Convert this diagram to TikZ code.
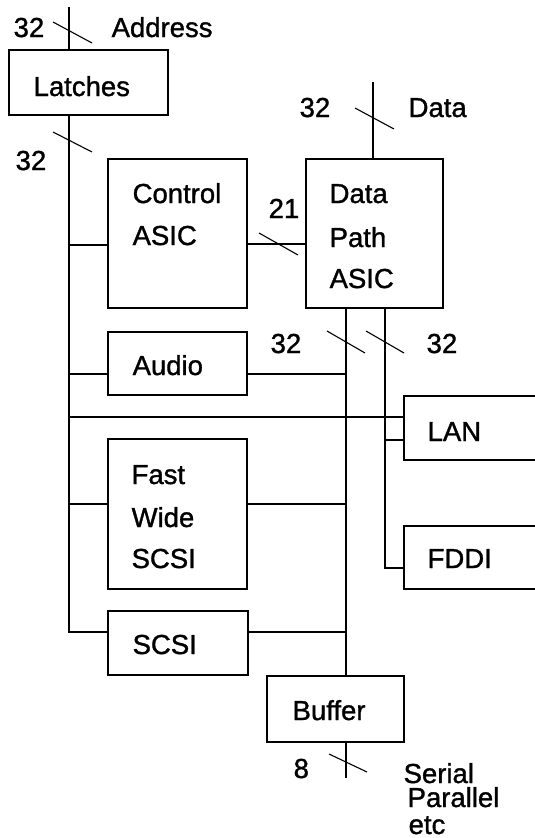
\documentclass[tikz,border=0pt]{standalone}
\usepackage{fontspec}
\setmainfont{Liberation Sans}[FakeBold=1.2]
\begin{document}
\begin{tikzpicture}[x=1pt,y=-1pt, line width=1.3pt,
  box/.style={draw, rectangle, inner sep=0pt},
  lbl/.style={anchor=base west, inner sep=0pt, font=\fontsize{27.5}{30}\selectfont},
  slashmark/.style={line width=1.1pt}]
\useasboundingbox (0,0) rectangle (535,838);
\clip (0,0) rectangle (535,838);

% boxes
\node[box, minimum width=159pt, minimum height=65pt]  (latches)  at (88.5,82.5) {};
\node[box, minimum width=139pt, minimum height=149pt] (control)  at (177.5,233.5) {};
\node[box, minimum width=137pt, minimum height=149pt] (datapath) at (374.5,233.5) {};
\node[box, minimum width=139pt, minimum height=63pt]  (audio)    at (177.5,363.5) {};
\node[box, minimum width=141pt, minimum height=64pt]  (lan)      at (474.5,428) {};
\node[box, minimum width=139pt, minimum height=150pt] (fws)      at (177.5,514) {};
\node[box, minimum width=141pt, minimum height=63pt]  (fddi)     at (474.5,557.5) {};
\node[box, minimum width=140pt, minimum height=64pt]  (scsi)     at (178,643) {};
\node[box, minimum width=137pt, minimum height=66pt]  (buffer)   at (335.5,709) {};

% bus coordinates
\coordinate (abTop) at (69,7);
\coordinate (abBot) at (69,632);
\coordinate (dTop) at (373,82);
\coordinate (mainX) at (346,0);
\coordinate (rightX) at (385,0);
\coordinate (ioEnd) at (346,778);

% connectors
\draw (abTop) -- (abTop |- latches.north);
\draw (abTop |- latches.south) -- (abBot) -- (scsi.west |- abBot);
\draw (abTop |- 0,245) -- (control.west |- 0,245);
\draw (control.east |- 0,244) -- (datapath.west |- 0,244);
\draw (dTop) -- (dTop |- datapath.north);
\draw (mainX |- datapath.south) -- (mainX |- buffer.north);
\draw (rightX |- datapath.south) -- (rightX |- 0,568) -- (fddi.west |- 0,568);
\draw (abTop |- 0,374) -- (audio.west |- 0,374);
\draw (audio.east |- 0,374) -- (mainX |- 0,374);
\draw (abTop |- 0,417) -- (lan.west |- 0,417);
\draw (rightX |- 0,440) -- (lan.west |- 0,440);
\draw (abTop |- 0,504) -- (fws.west |- 0,504);
\draw (fws.east |- 0,504) -- (mainX |- 0,504);
\draw (scsi.east |- abBot) -- (mainX |- abBot);
\draw (mainX |- buffer.south) -- (ioEnd);

% bus-width slashes
\draw[slashmark] (53,22) -- (92,43);
\draw[slashmark] (53,132) -- (92,152);
\draw[slashmark] (355,108) -- (394,129);
\draw[slashmark] (259,233) -- (298,255);
\draw[slashmark] (327,331) -- (365,353);
\draw[slashmark] (366,331) -- (404,353);
\draw[slashmark] (329,754) -- (367,772);

% texts
\node[lbl] (t32a) at (13,37) {32};
\node[lbl] (taddr) at (111,37) {Address};
\node[lbl] (tlatch) at (33,96) {Latches};
\node[lbl] (t32b) at (15,170) {32};
\node[lbl] (tctl1) at (132,203) {Control};
\node[lbl] (tctl2) at (132,245) {ASIC};
\node[lbl] (t32c) at (299,117) {32};
\node[lbl] (tdata) at (408,117) {Data};
\node[lbl] (tdp1) at (329,203) {Data};
\node[lbl] (tdp2) at (329,247) {Path};
\node[lbl] (tdp3) at (329,288) {ASIC};
\node[lbl] (t21) at (268,218) {21};
\node[lbl] (taudio) at (132,375) {Audio};
\node[lbl] (t32d) at (270,353) {32};
\node[lbl] (t32e) at (426,353) {32};
\node[lbl] (tlan) at (427,441) {LAN};
\node[lbl] (tfws1) at (131,484) {Fast};
\node[lbl] (tfws2) at (131,527) {Wide};
\node[lbl] (tfws3) at (131,568) {SCSI};
\node[lbl] (tfddi) at (427,568) {FDDI};
\node[lbl] (tscsi) at (132,654) {SCSI};
\node[lbl] (tbuf) at (292,720) {Buffer};
\node[lbl] (t8) at (293,778) {8};
\node[lbl] (tser) at (403,783) {Serial};
\node[lbl] (tpar) at (407,807) {Parallel};
\node[lbl] (tetc) at (408,834) {etc};
\end{tikzpicture}
\end{document}
